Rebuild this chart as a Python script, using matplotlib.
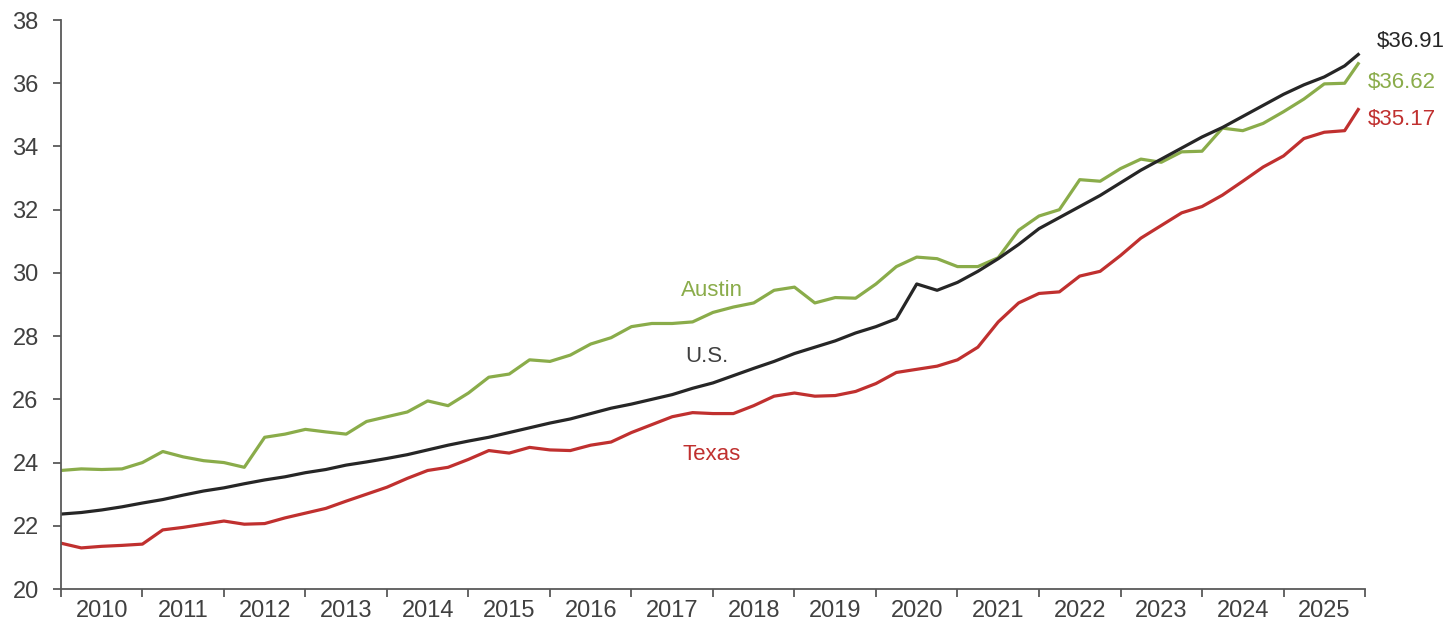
import numpy as np
import matplotlib.pyplot as plt

plt.rcParams['font.family'] = ['Liberation Sans', 'DejaVu Sans']

# quarterly readings, Q1 2010 .. Q4 2025, plus the last month
austin = [23.75, 23.80, 23.78, 23.80, 24.00, 24.35, 24.18, 24.06,
          24.00, 23.85, 24.80, 24.90, 25.05, 24.97, 24.90, 25.30,
          25.45, 25.60, 25.95, 25.80, 26.20, 26.70, 26.80, 27.25,
          27.20, 27.40, 27.75, 27.95, 28.30, 28.40, 28.40, 28.45,
          28.75, 28.92, 29.05, 29.45, 29.55, 29.05, 29.22, 29.20,
          29.65, 30.20, 30.50, 30.45, 30.20, 30.20, 30.48, 31.35,
          31.80, 32.00, 32.95, 32.90, 33.30, 33.60, 33.50, 33.83,
          33.85, 34.58, 34.50, 34.73, 35.10, 35.50, 35.98, 36.00, 36.62]
us = [22.37, 22.42, 22.50, 22.60, 22.72, 22.83, 22.97, 23.10,
      23.20, 23.33, 23.45, 23.55, 23.68, 23.78, 23.92, 24.02,
      24.13, 24.25, 24.40, 24.55, 24.68, 24.80, 24.95, 25.10,
      25.25, 25.38, 25.55, 25.72, 25.85, 26.00, 26.15, 26.35,
      26.52, 26.75, 26.98, 27.20, 27.45, 27.65, 27.85, 28.10,
      28.30, 28.55, 29.65, 29.45, 29.70, 30.05, 30.45, 30.90,
      31.40, 31.75, 32.10, 32.45, 32.85, 33.25, 33.60, 33.95,
      34.30, 34.60, 34.95, 35.30, 35.65, 35.95, 36.20, 36.55, 36.91]
texas = [21.45, 21.30, 21.35, 21.38, 21.42, 21.87, 21.95, 22.05,
         22.15, 22.05, 22.07, 22.25, 22.40, 22.55, 22.78, 23.00,
         23.22, 23.50, 23.75, 23.85, 24.10, 24.38, 24.30, 24.48,
         24.40, 24.38, 24.55, 24.65, 24.95, 25.20, 25.45, 25.58,
         25.55, 25.55, 25.80, 26.10, 26.20, 26.10, 26.12, 26.25,
         26.50, 26.85, 26.95, 27.05, 27.25, 27.65, 28.45, 29.05,
         29.35, 29.40, 29.90, 30.05, 30.55, 31.10, 31.50, 31.90,
         32.10, 32.46, 32.90, 33.35, 33.70, 34.25, 34.45, 34.50, 35.17]
t = list(2010 + np.arange(64) / 4) + [2025 + 11 / 12]
years = list(range(2010, 2026))

green = '#8aac4a'
red = '#c0302f'
black = '#262626'
grey = '#404040'

fig = plt.figure(figsize=(14.5, 6.28), dpi=100)
ax = fig.add_axes([0.042, 0.0621, 0.8994, 0.906])

ax.plot(t, austin, color=green, lw=2.3)
ax.plot(t, texas, color=red, lw=2.3)
ax.plot(t, us, color=black, lw=2.3)

ax.set_xlim(2010, 2026)
ax.set_ylim(20, 38)
ax.set_yticks(range(20, 39, 2))
ax.set_xticks(years + [2026])
ax.set_xticklabels([])
ax.set_xticks([y + 0.5 for y in years], minor=True)
ax.set_xticklabels([str(y) for y in years], minor=True)
ax.tick_params(axis='x', which='minor', length=0, pad=8, labelsize=17,
               labelcolor=grey)
ax.tick_params(axis='x', which='major', length=6, width=1.3, color='#595959')
ax.tick_params(axis='y', length=6, width=1.3, color='#595959', labelsize=17,
               labelcolor=grey, pad=10)

for side in ['top', 'right']:
    ax.spines[side].set_visible(False)
for side in ['left', 'bottom']:
    ax.spines[side].set_color('#595959')
    ax.spines[side].set_linewidth(1.3)

ax.text(2017.99, 29.43, 'Austin', color=green, fontsize=16,
        ha='center', va='center')
ax.text(2017.92, 27.34, 'U.S.', color=grey, fontsize=16,
        ha='center', va='center')
ax.text(2017.98, 24.24, 'Texas', color=red, fontsize=16,
        ha='center', va='center')

ax.text(2026.14, 37.31, '$%.2f' % us[-1], color=black, fontsize=16,
        ha='left', va='center', clip_on=False)
ax.text(2026.04, 36.01, '$%.2f' % austin[-1], color=green, fontsize=16,
        ha='left', va='center', clip_on=False)
ax.text(2026.04, 34.84, '$%.2f' % texas[-1], color=red, fontsize=16,
        ha='left', va='center', clip_on=False)

fig.savefig('out.png', dpi=100)
